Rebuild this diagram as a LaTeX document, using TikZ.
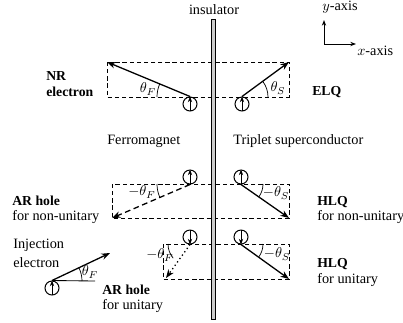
\documentclass[tikz,border=0pt]{standalone}
\usepackage{fontspec}
\setmainfont{Liberation Serif}
\usetikzlibrary{arrows.meta}
\begin{document}
\begin{tikzpicture}[x=0.7pt,y=-0.7pt,
  lbl/.style={anchor=west,inner sep=0pt,font=\fontsize{10}{11}\selectfont},
  blbl/.style={anchor=west,inner sep=0pt,font=\fontsize{9.6}{11}\selectfont\bfseries},
  ang/.style={inner sep=0pt,font=\fontsize{10}{11}\selectfont},
  spin/.style={circle,draw,line width=0.7pt,minimum size=9.8pt,inner sep=0pt},
  spinarrow/.style={line width=0.6pt,shorten <=0.3pt,-{Stealth[length=4pt,width=3pt]}},
  dbox/.style={line width=0.6pt,dash pattern=on 3pt off 2pt},
  vec/.style={line width=0.9pt,-{Stealth[length=6pt,width=4.5pt]}},
  arcline/.style={line width=0.5pt},
  axis/.style={line width=0.7pt,-{Stealth[length=4pt,width=3pt]}}]
\useasboundingbox (0,0) rectangle (403,322);

% axes
\coordinate (ax0) at (324,44);
\coordinate (axy) at (324,20);
\coordinate (axx) at (356,44);
\draw[axis] (ax0) -- (axy);
\draw[axis] (ax0) -- (axx);
\node[lbl] (ylab) at (322,7) {$y$-axis};
\node[lbl] (xlab) at (357,51) {$x$-axis};

% boxes
\coordinate (b1a) at (107,62); \coordinate (b1b) at (289,97);
\coordinate (b1c) at (289,62);
\draw[dbox] (b1a) rectangle (b1b);
\coordinate (b2a) at (112,184); \coordinate (b2b) at (289,218);
\coordinate (b2c) at (112,218);
\draw[dbox] (b2a) rectangle (b2b);
\coordinate (b3a) at (163,244); \coordinate (b3b) at (289,279);
\coordinate (b3c) at (166,278);
\draw[dbox] (b3a) rectangle (b3b);

% insulator
\node[lbl,anchor=center] (ins) at (214,10) {insulator};
\draw[line width=0.4pt,fill=gray!40] (211.5,19) rectangle (215,319);

% row 1
\node[spin] (s1) at (190,104) {};
\draw[spinarrow] (s1.south) -- (s1.north);
\draw[vec] (s1.north) -- (b1a);
\draw[arcline] (157,97) arc[start angle=180,end angle=203,radius=33];
\node[ang] (tf1) at (148,89) {$\theta_F$};
\node[spin] (s2) at (242,104) {};
\draw[spinarrow] (s2.south) -- (s2.north);
\draw[vec] (s2.north) -- (b1c);
\draw[arcline] (268,97) arc[start angle=0,end angle=-37,radius=26];
\node[ang] (ts1) at (278,88) {$\theta_S$};
\node[blbl] (nr) at (46,76) {NR};
\node[blbl] (nre) at (46,92) {electron};
\node[blbl] (elq) at (312,92) {ELQ};

\node[lbl] (fm) at (107,141) {Ferromagnet};
\node[lbl] (ts) at (233,141) {Triplet superconductor};

% row 2
\node[spin] (s3) at (190,177) {};
\draw[spinarrow] (s3.south) -- (s3.north);
\draw[vec,dash pattern=on 4pt off 2.5pt] (s3.south) -- (b2c);
\draw[arcline] (157,184) arc[start angle=180,end angle=157,radius=33];
\node[ang] (tf2) at (142,192) {$-\theta_F$};
\node[spin] (s4) at (241,177) {};
\draw[spinarrow] (s4.south) -- (s4.north);
\draw[vec] (s4.south) -- (b2b);
\draw[arcline] (263,184) arc[start angle=0,end angle=35,radius=22];
\node[ang] (ts2) at (276,193) {$-\theta_S$};
\node[blbl] (arh1) at (12,201) {AR hole};
\node[lbl] (arh1b) at (12,217) {for non-unitary};
\node[blbl] (hlq1) at (317,202) {HLQ};
\node[lbl] (hlq1b) at (317,217) {for non-unitary};

% row 3
\node[spin] (s5) at (190,237) {};
\draw[spinarrow] (s5.north) -- (s5.south);
\draw[vec,dotted] (s5.south) -- (b3c);
\draw[arcline] (168,244) arc[start angle=180,end angle=140,radius=22];
\node[ang] (tf3) at (160,255) {$-\theta_F$};
\node[spin] (s6) at (241,237) {};
\draw[spinarrow] (s6.north) -- (s6.south);
\draw[vec] (s6.south) -- (b3b);
\draw[arcline] (263,244) arc[start angle=0,end angle=36,radius=22];
\node[ang] (ts3) at (277,254) {$-\theta_S$};
\node[blbl] (hlq2) at (317,264) {HLQ};
\node[lbl] (hlq2b) at (317,280) {for unitary};

% injection
\node[spin] (s7) at (52,288) {};
\draw[spinarrow] (s7.south) -- (s7.north);
\coordinate (inj) at (110,253);
\coordinate (injh) at (95,281);
\draw[vec] (s7.north) -- (inj);
\draw[line width=0.6pt] (s7.north) -- (injh);
\draw[arcline] (82,281) arc[start angle=0,end angle=-26,radius=30];
\node[ang] (tf4) at (90,272) {$\theta_F$};
\node[lbl] (inj1) at (13,245) {Injection};
\node[lbl] (inj2) at (13,263) {electron};
\node[blbl] (arh2) at (102,290) {AR hole};
\node[lbl] (arh2b) at (102,306) {for unitary};
\end{tikzpicture}
\end{document}
